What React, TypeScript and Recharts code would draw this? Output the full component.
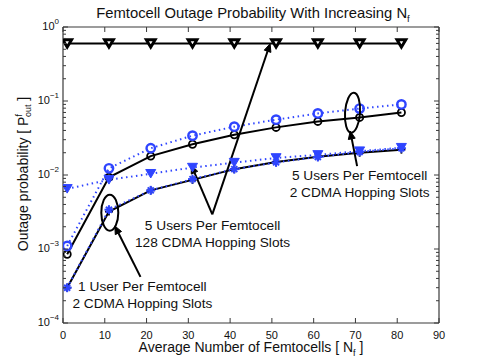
import React from 'react';
import { LineChart, Line, XAxis, YAxis, ReferenceDot, ReferenceLine } from 'recharts';

// ---------- data ----------
const nf = [1, 11, 21, 31, 41, 51, 61, 71, 81];
// 5 users / 128 slots (black, triangles)
const users5slots128Top = [0.6, 0.6, 0.6, 0.6, 0.6, 0.6, 0.6, 0.6, 0.6];
// 5 users / 2 slots (black solid, circles)
const users5slots2Sim = [8.5e-4, 9.3e-3, 0.018, 0.026, 0.035, 0.044, 0.053, 0.06, 0.07];
// 5 users / 2 slots (blue dotted, circles)
const users5slots2Ana = [1.1e-3, 0.0123, 0.023, 0.034, 0.045, 0.056, 0.068, 0.079, 0.09];
// 5 users / 128 slots (blue dotted, filled triangles)
const users5slots128Ana = [0.0065, 0.0086, 0.0104, 0.0126, 0.0147, 0.017, 0.0187, 0.021, 0.0234];
// 1 user / 2 slots (black solid, plus)
const user1slots2Sim = [3.0e-4, 3.2e-3, 0.0062, 0.0086, 0.012, 0.015, 0.0177, 0.02, 0.022];
// 1 user / 2 slots (blue dotted, stars)
const user1slots2Ana = [3.0e-4, 3.4e-3, 0.0062, 0.0088, 0.012, 0.0148, 0.0175, 0.0205, 0.023];

const xTicks = [0, 10, 20, 30, 40, 50, 60, 70, 80, 90];
const yMajorTicks = [1e-4, 1e-3, 1e-2, 1e-1, 1];
const yMajorExponents = ['−4', '−3', '−2', '−1', '0'];
const yMinorMultipliers = [2, 3, 4, 5, 6, 7, 8, 9];

const data = nf.map((n, i) => ({
  n,
  top: users5slots128Top[i],
  c5sim: users5slots2Sim[i],
  c5ana: users5slots2Ana[i],
  t5ana: users5slots128Ana[i],
  p1sim: user1slots2Sim[i],
  s1ana: user1slots2Ana[i],
}));

const yTicks: number[] = [];
yMajorTicks.forEach((m, i) => {
  yTicks.push(m);
  if (i < yMajorTicks.length - 1) {
    yMinorMultipliers.forEach((k) => yTicks.push(Number((k * m).toPrecision(3))));
  }
});

// ---------- layout ----------
const W = 485;
const H = 364;
const L = 63;
const R = 439;
const T = 27;
const B = 323;
const FONT = 'Liberation Sans, Arial, Helvetica, sans-serif';
const BLUE = '#2f45ff';
const AX = '#3a3a3a';

const XTick = (props: any) => {
  const { x, payload } = props;
  return (
    <g>
      <line x1={x} x2={x} y1={B} y2={B - 5} stroke={AX} strokeWidth={1} />
      <line x1={x} x2={x} y1={T} y2={T + 5} stroke={AX} strokeWidth={1} />
      <text x={x} y={B + 15.5} textAnchor="middle" fontSize={11} fontFamily={FONT} fill="#111">
        {payload.value}
      </text>
    </g>
  );
};

const YTick = (props: any) => {
  const { y, payload } = props;
  const idx = yMajorTicks.indexOf(payload.value);
  const major = idx >= 0;
  const len = major ? 5 : 3;
  return (
    <g>
      <line x1={L} x2={L + len} y1={y} y2={y} stroke={AX} strokeWidth={1} />
      <line x1={R - len} x2={R} y1={y} y2={y} stroke={AX} strokeWidth={1} />
      {major && (
        <text x={L - 4} y={y + 3} textAnchor="end" fontSize={11} fontFamily={FONT} fill="#111">
          10
          <tspan dy={-6} fontSize={8}>
            {yMajorExponents[idx]}
          </tspan>
        </text>
      )}
    </g>
  );
};

const triDown = (cx: number, cy: number, s: number) =>
  `M${cx - s},${cy - s * 0.85} L${cx + s},${cy - s * 0.85} L${cx},${cy + s * 0.85} Z`;

const BlackTri = (p: any) =>
  p.cx == null ? null : (
    <path key={p.index} d={triDown(p.cx, p.cy, 4.4)} fill="#fff" stroke="#000" strokeWidth={3} strokeLinejoin="miter" />
  );
const BlueTri = (p: any) =>
  p.cx == null ? null : (
    <path key={p.index} d={triDown(p.cx, p.cy, 5)} fill={BLUE} stroke={BLUE} strokeWidth={1} />
  );
const BlackCircle = (p: any) =>
  p.cx == null ? null : <circle key={p.index} cx={p.cx} cy={p.cy} r={3.6} fill="none" stroke="#000" strokeWidth={1.8} />;
const BlueCircle = (p: any) =>
  p.cx == null ? null : <circle key={p.index} cx={p.cx} cy={p.cy} r={4.2} fill="none" stroke={BLUE} strokeWidth={2.4} />;
const BlackPlus = (p: any) =>
  p.cx == null ? null : (
    <g key={p.index} stroke="#000" strokeWidth={1.8}>
      <line x1={p.cx - 4} x2={p.cx + 4} y1={p.cy} y2={p.cy} />
      <line x1={p.cx} x2={p.cx} y1={p.cy - 4} y2={p.cy + 4} />
    </g>
  );
const BlueStar = (p: any) =>
  p.cx == null ? null : (
    <g key={p.index} stroke={BLUE} strokeWidth={2}>
      <line x1={p.cx - 4.5} x2={p.cx + 4.5} y1={p.cy} y2={p.cy} />
      <line x1={p.cx} x2={p.cx} y1={p.cy - 4.5} y2={p.cy + 4.5} />
      <line x1={p.cx - 3} x2={p.cx + 3} y1={p.cy - 3} y2={p.cy + 3} />
      <line x1={p.cx - 3} x2={p.cx + 3} y1={p.cy + 3} y2={p.cy - 3} />
    </g>
  );

const Arrow = (p: any) => {
  const { x1, y1, x2, y2 } = p;
  if (x1 == null) return null;
  const ang = Math.atan2(y2 - y1, x2 - x1);
  const hl = 8;
  const hw = 3.5;
  const bx = x2 - hl * Math.cos(ang);
  const by = y2 - hl * Math.sin(ang);
  const nx = -Math.sin(ang) * hw;
  const ny = Math.cos(ang) * hw;
  return (
    <g>
      <line x1={x1} y1={y1} x2={bx} y2={by} stroke="#000" strokeWidth={2} />
      <path d={`M${x2},${y2} L${bx + nx},${by + ny} L${bx - nx},${by - ny} Z`} fill="#000" stroke="#000" strokeWidth={1} />
    </g>
  );
};

const makeEllipse = (rx: number, ry: number, rot: number) => (p: any) =>
  p.cx == null ? null : (
    <ellipse
      cx={p.cx}
      cy={p.cy}
      rx={rx}
      ry={ry}
      fill="none"
      stroke="#000"
      strokeWidth={2}
      transform={`rotate(${rot} ${p.cx} ${p.cy})`}
    />
  );

const makeLabel = (line1: string, line2: string) => (p: any) =>
  p.cx == null ? null : (
    <text x={p.cx} y={p.cy} textAnchor="middle" fontSize={13.7} fontFamily={FONT} fill="#111">
      <tspan x={p.cx} dy={5}>{line1}</tspan>
      <tspan x={p.cx} dy={16.5}>{line2}</tspan>
    </text>
  );

export default function App() {
  return (
    <div style={{ position: 'absolute', left: 0, top: 0, width: W, height: H, background: '#fff' }}>
      <LineChart width={W} height={H} data={data} margin={{ top: T, right: W - R, bottom: 11, left: 0 }}>
        <XAxis
          dataKey="n"
          type="number"
          domain={[0, 90]}
          ticks={xTicks}
          axisLine={false}
          tickLine={false}
          tick={<XTick />}
          height={H - B - 11}
          interval={0}
          allowDataOverflow
        />
        <YAxis
          type="number"
          scale="log"
          domain={[1e-4, 1]}
          ticks={yTicks}
          axisLine={false}
          tickLine={false}
          tick={<YTick />}
          width={L}
          interval={0}
          allowDataOverflow
        />
        <ReferenceLine x={0} stroke={AX} strokeWidth={1.2} />
        <ReferenceLine x={90} stroke={AX} strokeWidth={1.2} />
        <ReferenceLine y={1e-4} stroke={AX} strokeWidth={1.2} />
        <ReferenceLine y={1} stroke={AX} strokeWidth={1.2} />

        <Line dataKey="top" stroke="#000" strokeWidth={2} dot={BlackTri} isAnimationActive={false} />
        <Line dataKey="c5sim" stroke="#000" strokeWidth={2} dot={BlackCircle} isAnimationActive={false} />
        <Line dataKey="p1sim" stroke="#000" strokeWidth={2} dot={BlackPlus} isAnimationActive={false} />
        <Line dataKey="c5ana" stroke={BLUE} strokeWidth={2} strokeDasharray="1.5 3.5" dot={BlueCircle} isAnimationActive={false} />
        <Line dataKey="t5ana" stroke={BLUE} strokeWidth={2} strokeDasharray="1.5 3.5" dot={BlueTri} isAnimationActive={false} />
        <Line dataKey="s1ana" stroke={BLUE} strokeWidth={2} strokeDasharray="1.5 3.5" dot={BlueStar} isAnimationActive={false} />

        {/* annotations */}
        <ReferenceDot x={11.2} y={0.0031} shape={makeEllipse(8.5, 18, 0)} />
        <ReferenceDot x={69.3} y={0.0695} shape={makeEllipse(7.5, 20, 4)} />
        <ReferenceLine segment={[{ x: 18.55, y: 4.2e-4 }, { x: 12.4, y: 2.05e-3 }]} shape={Arrow} />
        <ReferenceLine segment={[{ x: 35.74, y: 2.94e-3 }, { x: 30.72, y: 0.0135 }]} shape={Arrow} />
        <ReferenceLine segment={[{ x: 35.74, y: 2.94e-3 }, { x: 49.58, y: 0.595 }]} shape={Arrow} />
        <ReferenceLine segment={[{ x: 70.4, y: 0.0132 }, { x: 68.75, y: 0.0393 }]} shape={Arrow} />
        <ReferenceDot x={19.0} y={3.15e-4} shape={makeLabel('1 User Per Femtocell', '2 CDMA Hopping Slots')} />
        <ReferenceDot x={35.8} y={2.1e-3} shape={makeLabel('5 Users Per Femtocell', '128 CDMA Hopping Slots')} />
        <ReferenceDot x={71.0} y={9.9e-3} shape={makeLabel('5 Users Per Femtocell', '2 CDMA Hopping Slots')} />
      </LineChart>
      <svg width={W} height={H} style={{ position: 'absolute', left: 0, top: 0, pointerEvents: 'none' }}>
        <text x={253} y={18} textAnchor="middle" fontSize={14.8} fontFamily={FONT} fill="#111">
          Femtocell Outage Probability With Increasing N
          <tspan dy={4} fontSize={9.5}>f</tspan>
        </text>
        <text x={251} y={352} textAnchor="middle" fontSize={14} fontFamily={FONT} fill="#111">
          Average Number of Femtocells [ N
          <tspan dy={4} fontSize={9}>f</tspan>
          <tspan dy={-4}> ]</tspan>
        </text>
        <text
          x={0}
          y={0}
          transform="translate(28 174) rotate(-90)"
          textAnchor="middle"
          fontSize={14}
          fontFamily={FONT}
          fill="#111"
        >
          Outage probability [ P
          <tspan dy={-6} fontSize={9}>f</tspan>
          <tspan dx={-3} dy={9} fontSize={9}>out</tspan>
          <tspan dy={-3}> ]</tspan>
        </text>
      </svg>
    </div>
  );
}
